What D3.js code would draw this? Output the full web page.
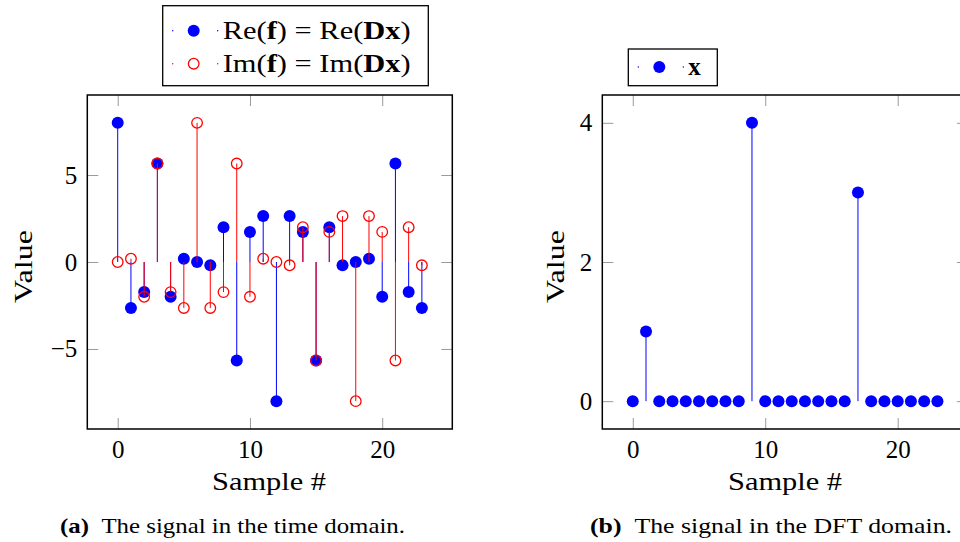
<!DOCTYPE html>
<html>
<head>
<meta charset="utf-8">
<script src="https://cdn.jsdelivr.net/npm/d3@7"></script>
<style>
  body { margin: 0; background: #fff; }
  svg, svg text { font-family: "Liberation Serif", "Times New Roman", Times, serif; fill: #000; }
</style>
</head>
<body>
<svg id="chart" width="960" height="542"></svg>
<script>
// sample index, shared by both panels
const samples = [0, 1, 2, 3, 4, 5, 6, 7, 8, 9, 10, 11, 12, 13, 14, 15, 16, 17, 18, 19, 20, 21, 22, 23];

// time domain (left panel)
const reValues = [8, -2.64, -1.73, 5.66, -2, 0.19, 0, -0.19, 2, -5.66, 1.73, 2.64,
                  -8, 2.64, 1.73, -5.66, 2, -0.19, 0, 0.19, -2, 5.66, -1.73, -2.64];
const imValues = [0, 0.19, -2, 5.66, -1.73, -2.64, 8, -2.64, -1.73, 5.66, -2, 0.19,
                  0, -0.19, 2, -5.66, 1.73, 2.64, -8, 2.64, 1.73, -5.66, 2, -0.19];

// DFT domain (right panel)
const dftValues = [0, 1, 0, 0, 0, 0, 0, 0, 0, 4, 0, 0, 0, 0, 0, 0, 0, 3, 0, 0, 0, 0, 0, 0];

const xTicks = [0, 10, 20];
const leftYTicks = [-5, 0, 5];
const rightYTicks = [0, 2, 4];

const FONT = '"Liberation Serif", "Times New Roman", Times, serif';

const cfg = {
  blue: "#0000ff",
  red: "#ff0000",
  tickColor: "#9a9a9a",
  tickLen: 11,
  fontSize: 25,
  top: 95,
  bottom: 429
};

const svg = d3.select("#chart");

function drawPanel(p) {
  const x = d3.scaleLinear().domain([-2.3, 25.3]).range([p.left, p.right]);
  const y = d3.scaleLinear().domain(p.yDomain).range([cfg.bottom, cfg.top]);
  const g = svg.append("g");

  // ticks (inside, on all four sides)
  const styleAxis = sel => {
    sel.attr("font-family", FONT);
    sel.select(".domain").remove();
    sel.selectAll(".tick line").attr("stroke", cfg.tickColor).attr("stroke-width", 1);
    sel.selectAll("text")
      .style("font-family", FONT)
      .style("font-size", cfg.fontSize + "px")
      .attr("fill", "#000");
  };
  g.append("g").attr("transform", `translate(0,${cfg.bottom})`)
    .call(d3.axisBottom(x).tickValues(xTicks).tickSize(-cfg.tickLen).tickPadding(11).tickFormat(d3.format("d")))
    .call(styleAxis);
  g.append("g").attr("transform", `translate(0,${cfg.top})`)
    .call(d3.axisTop(x).tickValues(xTicks).tickSize(-cfg.tickLen).tickFormat(""))
    .call(styleAxis);
  g.append("g").attr("transform", `translate(${p.left},0)`)
    .call(d3.axisLeft(y).tickValues(p.yTicks).tickSize(-cfg.tickLen).tickPadding(10).tickFormat(d3.format("d")))
    .call(styleAxis);
  g.append("g").attr("transform", `translate(${p.right},0)`)
    .call(d3.axisRight(y).tickValues(p.yTicks).tickSize(-cfg.tickLen).tickFormat(""))
    .call(styleAxis);

  // series: stems then marks, one series after another
  p.series.forEach(s => {
    const pts = samples.map((d, i) => ({ k: d, v: s.values[i] }));
    g.append("g").selectAll("line")
      .data(pts)
      .enter()
      .append("line")
      .attr("x1", d => x(d.k))
      .attr("x2", d => x(d.k))
      .attr("y1", y(0))
      .attr("y2", d => y(d.v))
      .attr("stroke", s.color)
      .attr("stroke-width", 1);
    g.append("g").selectAll("circle")
      .data(pts)
      .enter()
      .append("circle")
      .attr("cx", d => x(d.k))
      .attr("cy", d => y(d.v))
      .attr("r", s.filled ? 6 : 5.3)
      .attr("fill", s.filled ? s.color : "none")
      .attr("stroke", s.color)
      .attr("stroke-width", s.filled ? 0 : 1.3);
  });

  // frame
  g.append("rect")
    .attr("x", p.left)
    .attr("y", cfg.top)
    .attr("width", p.right - p.left)
    .attr("height", cfg.bottom - cfg.top)
    .attr("fill", "none")
    .attr("stroke", "#000")
    .attr("stroke-width", 1.5);

  // axis labels
  g.append("text")
    .attr("x", p.labelX)
    .attr("y", 490)
    .attr("text-anchor", "middle")
    .attr("textLength", 114)
    .attr("lengthAdjust", "spacingAndGlyphs")
    .style("font-family", FONT)
    .style("font-size", cfg.fontSize + "px")
    .text("Sample #");
  g.append("text")
    .attr("transform", `translate(${p.valueX},266.5) rotate(-90)`)
    .attr("text-anchor", "middle")
    .attr("dy", "0.35em")
    .attr("textLength", 73)
    .attr("lengthAdjust", "spacingAndGlyphs")
    .style("font-family", FONT)
    .style("font-size", cfg.fontSize + "px")
    .text("Value");

  // legend
  const lg = g.append("g");
  lg.append("rect")
    .attr("x", p.legend.x)
    .attr("y", p.legend.y)
    .attr("width", p.legend.w)
    .attr("height", p.legend.h)
    .attr("fill", "#fff")
    .attr("stroke", "#000")
    .attr("stroke-width", 1.3);
  p.series.forEach((s, i) => {
    const cy = p.legend.y + (p.series.length > 1 ? 25 : 18) + i * 33;
    const mx = p.legend.x + 31;
    [mx - 21, mx + 24].forEach(dx => {
      lg.append("circle").attr("cx", dx).attr("cy", cy).attr("r", 0.7).attr("fill", s.color);
    });
    lg.append("circle")
      .attr("cx", mx)
      .attr("cy", cy)
      .attr("r", s.filled ? 6 : 5.3)
      .attr("fill", s.filled ? s.color : "none")
      .attr("stroke", s.color)
      .attr("stroke-width", s.filled ? 0 : 1.3);
    const t = lg.append("text")
      .attr("x", mx + 29)
      .attr("y", cy)
      .attr("dy", "0.33em")
      .style("font-family", FONT)
      .style("font-size", cfg.fontSize + "px");
    if (s.labelLen) t.attr("textLength", s.labelLen).attr("lengthAdjust", "spacingAndGlyphs");
    s.label.forEach(part => {
      t.append("tspan").attr("font-weight", part.b ? "bold" : "normal").text(part.t);
    });
  });

  // caption
  const cap = g.append("text")
    .attr("x", p.captionX)
    .attr("y", 533)
    .attr("text-anchor", "middle")
    .attr("textLength", p.captionLen)
    .attr("lengthAdjust", "spacingAndGlyphs")
    .style("font-family", FONT)
    .style("font-size", "21px");
  cap.append("tspan").attr("font-weight", "bold").text(p.tag);
  cap.append("tspan").text("\u2002" + p.caption);
}

drawPanel({
  left: 87.3,
  right: 452.3,
  yDomain: [-9.6, 9.6],
  yTicks: leftYTicks,
  labelX: 269,
  valueX: 23,
  captionX: 232.5,
  captionLen: 345,
  tag: "(a)",
  caption: "The signal in the time domain.",
  legend: { x: 162.7, y: 5.7, w: 265.6, h: 80 },
  series: [
    { values: reValues, color: cfg.blue, filled: true, labelLen: 188,
      label: [{ t: "Re(" }, { t: "f", b: true }, { t: ") = Re(" }, { t: "Dx", b: true }, { t: ")" }] },
    { values: imValues, color: cfg.red, filled: false, labelLen: 188,
      label: [{ t: "Im(" }, { t: "f", b: true }, { t: ") = Im(" }, { t: "Dx", b: true }, { t: ")" }] }
  ]
});

drawPanel({
  left: 602.3,
  right: 967.9,
  yDomain: [-0.4, 4.4],
  yTicks: rightYTicks,
  labelX: 785,
  valueX: 555,
  captionX: 771,
  captionLen: 362,
  tag: "(b)",
  caption: "The signal in the DFT domain.",
  legend: { x: 628.3, y: 49, w: 89, h: 36.7 },
  series: [
    { values: dftValues, color: cfg.blue, filled: true,
      label: [{ t: "x", b: true }] }
  ]
});
</script>
</body>
</html>
